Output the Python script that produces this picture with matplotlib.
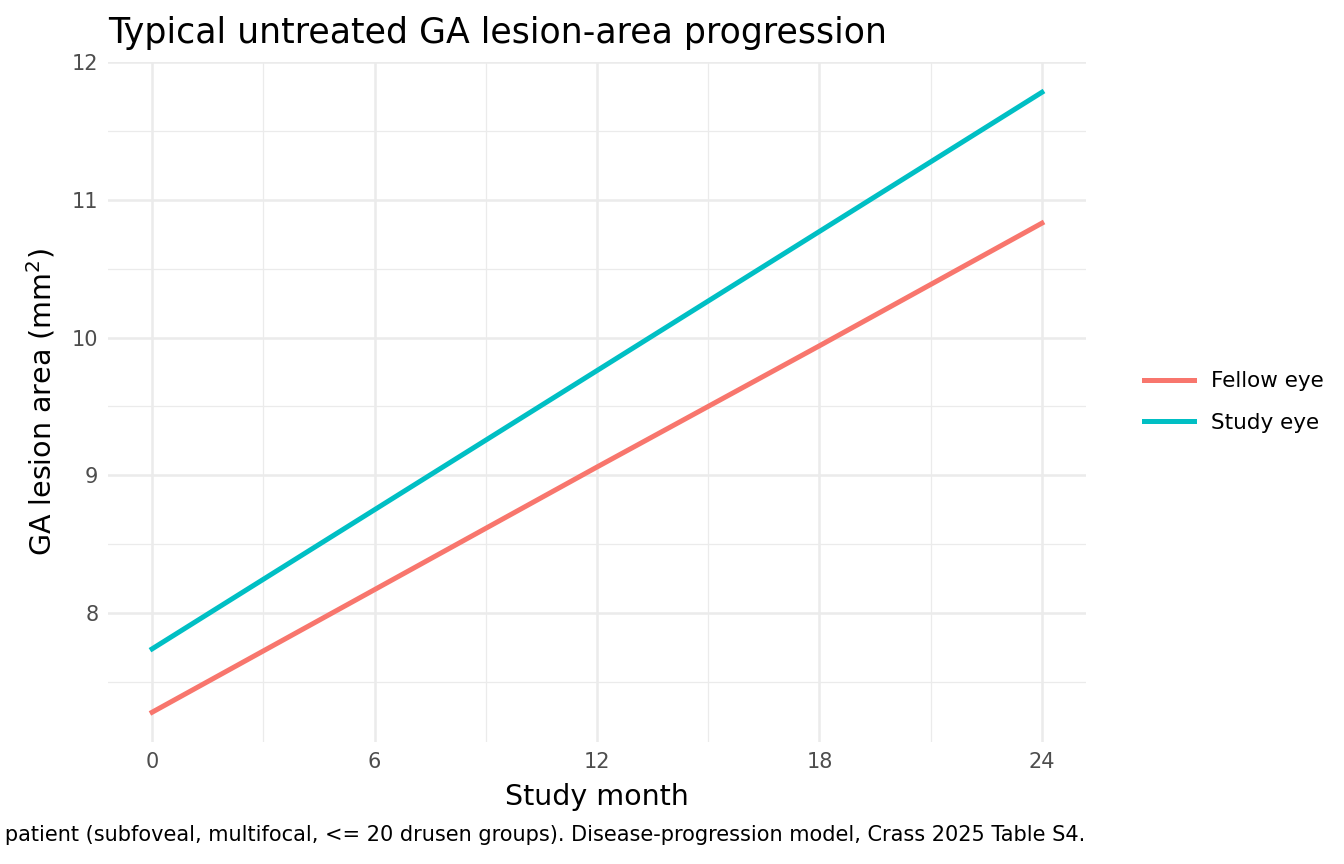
import matplotlib.pyplot as plt
from matplotlib.ticker import MultipleLocator

months = [0, 6, 12, 18, 24]
fellow = [7.28, 8.17, 9.06, 9.94, 10.83]
study = [7.74, 8.75, 9.76, 10.77, 11.78]

fig = plt.figure(figsize=(13.44, 8.64), dpi=100)
ax = fig.add_axes([108/1344, 1 - 742/864, (1086-108)/1344, (742-62)/864])

ax.plot(months, fellow, color='#F8766D', lw=3.6, label='Fellow eye')
ax.plot(months, study, color='#00BFC4', lw=3.6, label='Study eye')

ax.set_xlim(-1.19, 25.19)
ax.set_ylim(7.064, 12)
ax.xaxis.set_major_locator(MultipleLocator(6))
ax.xaxis.set_minor_locator(MultipleLocator(3))
ax.yaxis.set_major_locator(MultipleLocator(1))
ax.yaxis.set_minor_locator(MultipleLocator(0.5))
ax.grid(which='major', color='#EBEBEB', lw=1.8)
ax.grid(which='minor', color='#EBEBEB', lw=0.9)
ax.set_axisbelow(True)
for s in ax.spines.values():
    s.set_visible(False)
ax.tick_params(which='both', length=0, labelsize=15, labelcolor='#4D4D4D', pad=7)

ax.set_xlabel('Study month', fontsize=20.5, labelpad=8)
ax.set_ylabel('GA lesion area (mm$^2$)', fontsize=20.5, labelpad=10)
ax.set_title('Typical untreated GA lesion-area progression', fontsize=25, loc='left', x=0.0, pad=14)

ax.legend(loc='center left', bbox_to_anchor=(1.04, 0.5), frameon=False, fontsize=15.5,
          handlelength=2.3, labelspacing=1.0)

fig.text(1085/1344, 1 - 835/864,
         'Typical untreated patient (subfoveal, multifocal, <= 20 drusen groups). '
         'Disease-progression model, Crass 2025 Table S4.',
         ha='right', va='center', fontsize=15)

fig.savefig('out.png', dpi=100)
